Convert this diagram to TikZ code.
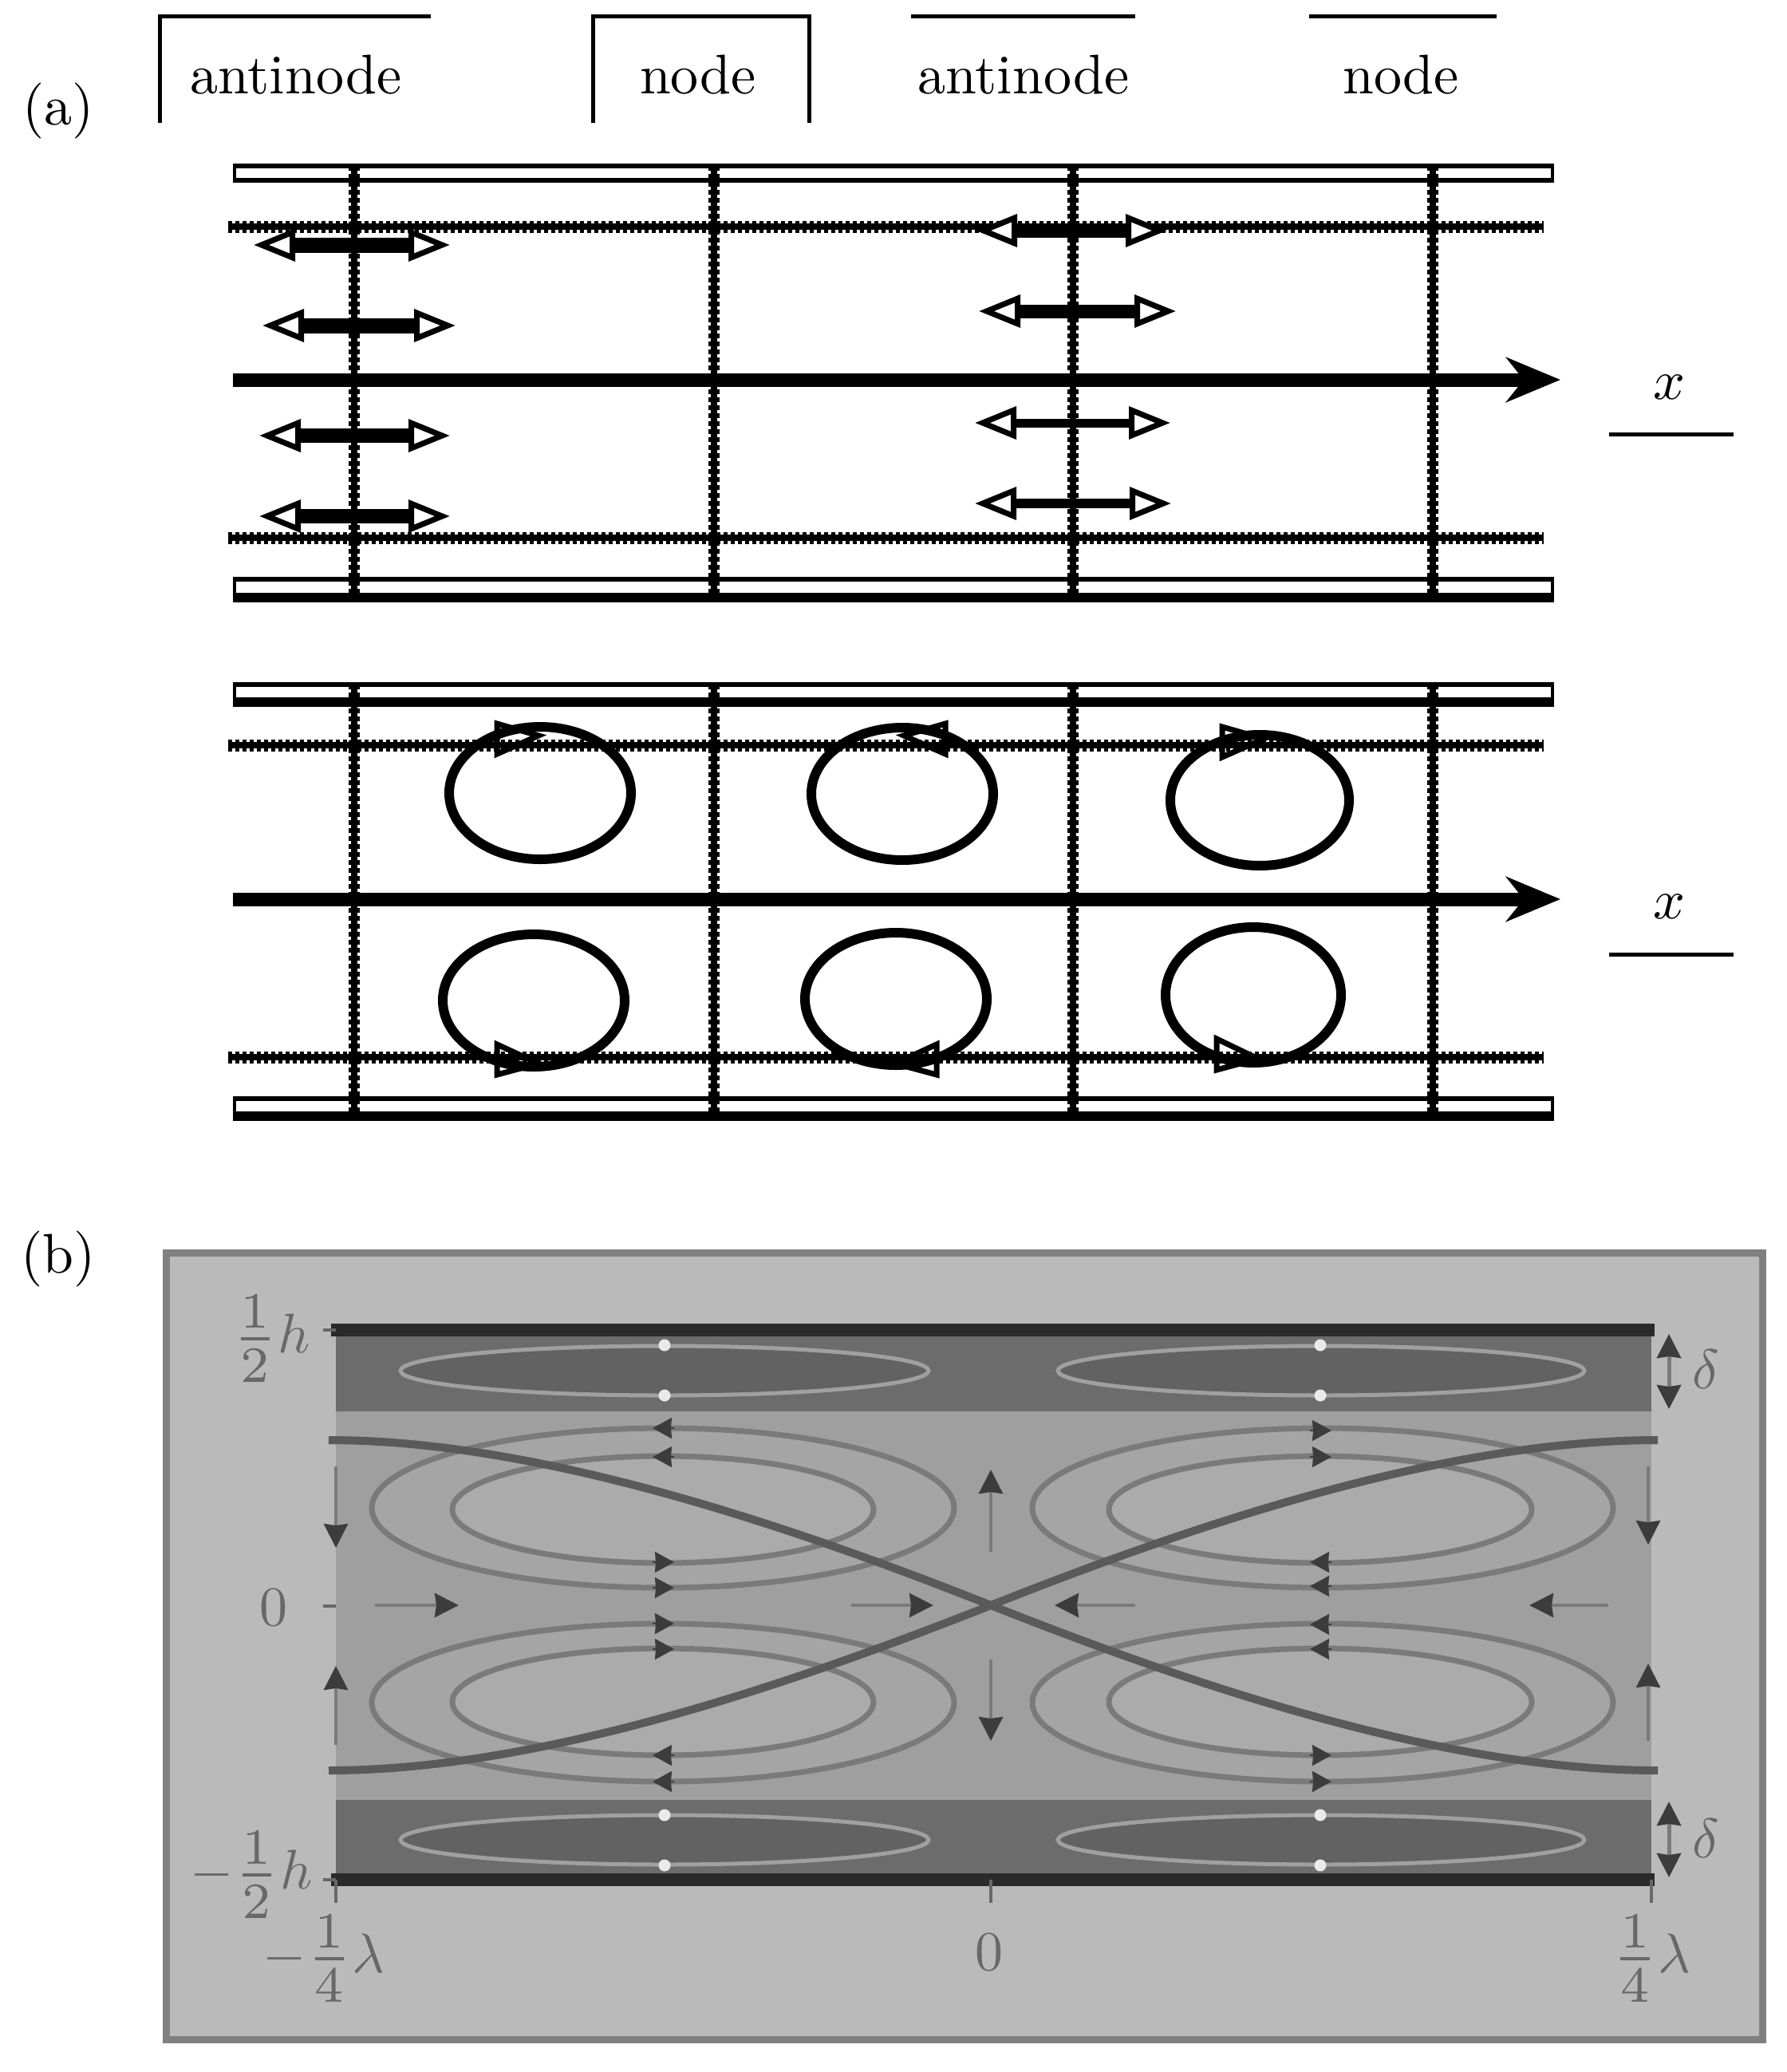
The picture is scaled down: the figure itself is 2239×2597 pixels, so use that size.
\documentclass[tikz,border=0pt]{standalone}
\usepackage{amsmath}
\usepackage{graphicx}
\usetikzlibrary{arrows.meta}
\newcommand{\bigfr}[2]{\vcenter{\hbox{\scalebox{1.3}{$\frac{#1}{#2}$}}}}
\definecolor{frameg}{HTML}{BABABA}
\definecolor{borderg}{HTML}{808080}
\definecolor{midg}{HTML}{9F9F9F}
\definecolor{lobeg}{HTML}{ABABAB}
\definecolor{bandg}{HTML}{6C6C6C}
\definecolor{thing}{HTML}{626262}
\definecolor{wallg}{HTML}{2A2A2A}
\definecolor{lineg}{HTML}{7A7A7A}
\definecolor{sepg}{HTML}{5A5A5A}
\definecolor{blobg}{HTML}{3C3C3C}
\definecolor{textg}{HTML}{686868}
\tikzset{
  x=1pt,y=-1pt,
  lab/.style={inner sep=0pt,transform shape,scale=7},
  glab/.style={lab,text=textg},
  brack/.style={line width=5pt,line cap=butt,line join=miter},
  wallbox/.style={draw=black,fill=white,line width=4pt},
  thinwall/.style={line width=6pt},
  thickwall/.style={line width=12pt},
  hdots/.style={line width=15pt,dash pattern=on 5pt off 4pt,preaction={draw,solid,line width=8pt}},
  vdots/.style={line width=14pt,dash pattern=on 6pt off 4pt,preaction={draw,solid,line width=8pt}},
  axisline/.style={line width=17pt,-{Stealth[length=68pt,width=56pt,inset=22pt]}},
  dblarrow/.style={line width=#1,{Triangle[length=52pt,width=40pt,line width=7pt,fill=white]}-{Triangle[length=52pt,width=40pt,line width=7pt,fill=white]}},
  loop/.style={draw=black,line width=12pt},
  headtip/.style={draw=black,fill=white,line width=7pt,line join=miter},
  thinloop/.style={draw=lineg!40!frameg,line width=5pt,fill=thing},
  outerloop/.style={draw=lineg,line width=7pt,fill=lobeg!50!midg},
  innerloop/.style={draw=lineg,line width=7pt,fill=lobeg},
  sep/.style={draw=sepg,line width=10pt},
  flow/.style={draw=lineg,line width=4pt,-{Stealth[length=30pt,width=30pt,inset=2pt,blobg]}},
  blobhead/.style={draw=blobg,line width=2pt,-{Stealth[length=24pt,width=26pt,inset=1pt,blobg]}},
  wdot/.style={circle,fill=white!70!frameg,inner sep=0pt,minimum size=15pt},
  tickm/.style={draw=textg,line width=4pt}
}
\begin{document}
\begin{tikzpicture}
\useasboundingbox (0,0) rectangle (2239,2597);
\fill[white] (0,0) rectangle (2239,2597);

%%% brackets and labels of (a)
\draw[brack] (200,154) -- (200,20) -- (540,20);
\draw[brack] (743,154) -- (743,20) -- (1014,20) -- (1014,154);
\draw[brack] (1142,20) -- (1423,20);
\draw[brack] (1641,20) -- (1876,20);
\node[lab,anchor=base] (a1) at (371,117) {antinode};
\node[lab,anchor=base] (n1) at (875,117) {node};
\node[lab,anchor=base] (a2) at (1283,117) {antinode};
\node[lab,anchor=base] (n2) at (1756,117) {node};
\node[lab,anchor=base] (la) at (73,156) {(a)};

%%% upper channel
\draw[wallbox] (294,208) rectangle (1946,226);
\draw[thinwall] (292,208) -- (1948,208) (292,226) -- (1948,226);
\draw[wallbox] (294,726) rectangle (1946,749);
\draw[thinwall] (292,726) -- (1948,726);
\draw[thickwall] (292,749) -- (1948,749);
\draw[hdots] (286,284) -- (1935,284);
\draw[hdots] (286,674) -- (1935,674);
\foreach \x in {444,895,1345,1796} \draw[vdots] (\x,208) -- (\x,749);
\coordinate (ax1s) at (292,476);
\coordinate (ax1e) at (1956,476);
\draw[axisline] (ax1s) -- (ax1e);
\node[lab,anchor=base] (x1) at (2092,500) {$x$};
\draw[line width=5pt] (2017,544) -- (2173,544);
\draw[dblarrow=19pt] (318,307) -- (564,307);
\draw[dblarrow=19pt] (329,408) -- (571,408);
\draw[dblarrow=18pt] (325,546) -- (564,546);
\draw[dblarrow=18pt] (325,647) -- (564,647);
\draw[dblarrow=17pt] (1223,289) -- (1463,289);
\draw[dblarrow=17pt] (1227,390) -- (1474,390);
\draw[dblarrow=11pt] (1222,530) -- (1467,530);
\draw[dblarrow=12pt] (1222,631) -- (1468,631);

%%% lower channel
\draw[wallbox] (294,858) rectangle (1946,880);
\draw[thinwall] (292,858) -- (1948,858);
\draw[thickwall] (292,880) -- (1948,880);
\draw[wallbox] (294,1377) rectangle (1946,1399);
\draw[thinwall] (292,1377) -- (1948,1377);
\draw[thickwall] (292,1399) -- (1948,1399);
% cell arrowheads
\draw[headtip] (623,907) -- (675,922) -- (623,945) -- cycle;
\draw[headtip] (1185,907) -- (1133,922) -- (1185,945) -- cycle;
\draw[headtip] (1532,911) -- (1584,926) -- (1532,949) -- cycle;
\draw[headtip] (623,1347) -- (675,1333) -- (623,1309) -- cycle;
\draw[headtip] (1174,1347) -- (1122,1333) -- (1174,1309) -- cycle;
\draw[headtip] (1525,1341) -- (1577,1327) -- (1525,1302) -- cycle;
\draw[hdots] (286,934) -- (1935,934);
\draw[hdots] (286,1325) -- (1935,1325);
\foreach \x in {444,895,1345,1796} \draw[vdots] (\x,858) -- (\x,1399);
\coordinate (ax2s) at (292,1127);
\coordinate (ax2e) at (1956,1127);
\draw[axisline] (ax2s) -- (ax2e);
\node[lab,anchor=base] (x2) at (2092,1151) {$x$};
\draw[line width=5pt] (2017,1196) -- (2173,1196);
% cells
\draw[loop] (677,994) ellipse [x radius=114,y radius=83];
\draw[loop] (1131,995) ellipse [x radius=114,y radius=83];
\draw[loop] (1579,1003) ellipse [x radius=112,y radius=82];
\draw[loop] (669,1254) ellipse [x radius=114,y radius=83];
\draw[loop] (1123,1252) ellipse [x radius=114,y radius=83];
\draw[loop] (1571,1247) ellipse [x radius=110,y radius=85];

%%% panel (b)
\node[lab,anchor=base] (lb) at (73,1595) {(b)};
\draw[draw=borderg,fill=frameg,line width=9pt] (208,1570) rectangle (2209,2556);
\fill[midg] (421,1769) rectangle (2070,2256);
\fill[bandg] (421,1667) rectangle (2070,1769);
\fill[bandg] (421,2256) rectangle (2070,2356);
\draw[wallg,line width=16pt] (415,1667) -- (2074,1667);
\draw[wallg,line width=16pt] (415,2356) -- (2074,2356);
% thin loops in the layers
\foreach \cx/\cy/\rx in {833/1718/331,1656/1718/330,833/2306/331,1656/2306/330}
  \draw[thinloop] (\cx,\cy) ellipse [x radius=\rx,y radius=31];
\foreach \x in {833,1655} {
  \node[wdot] at (\x,1686) {};
  \node[wdot] at (\x,1749) {};
  \node[wdot] at (\x,2275) {};
  \node[wdot] at (\x,2338) {};
}
% core loops
\foreach \cx/\ro/\ri/\cxi in {831/365/264/831,1658/364/265/1655} {
  \draw[outerloop] (\cx,1890) ellipse [x radius=\ro,y radius=100];
  \draw[outerloop] (\cx,2134) ellipse [x radius=\ro,y radius=99];
  \draw[innerloop] (\cxi,1892) ellipse [x radius=\ri,y radius=67];
  \draw[innerloop] (\cxi,2133) ellipse [x radius=\ri,y radius=67];
}
% arrowheads on the loops
\foreach \y in {1790,1826,2200,2233} \draw[blobhead] (845,\y) -- (818,\y);
\foreach \y in {1958,1990,2035,2067} \draw[blobhead] (818,\y) -- (845,\y);
\foreach \y in {1793,1826,2200,2233} \draw[blobhead] (1642,\y) -- (1669,\y);
\foreach \y in {1958,1988,2036,2067} \draw[blobhead] (1669,\y) -- (1642,\y);
% separatrices
\coordinate (cross) at (1242,2012);
\draw[sep] (412,1805) .. controls (660,1805) and (960,1900) .. (cross)
  .. controls (1524,2124) and (1824,2219) .. (2078,2219);
\draw[sep] (412,2219) .. controls (660,2219) and (960,2124) .. (cross)
  .. controls (1524,1900) and (1824,1805) .. (2078,1805);
% flow arrows
\draw[flow] (470,2012) -- (575,2012);
\draw[flow] (1067,2012) -- (1170,2012);
\draw[flow] (1423,2012) -- (1322,2012);
\draw[flow] (2016,2012) -- (1917,2012);
\draw[flow] (1242,1945) -- (1242,1842);
\draw[flow] (1242,2080) -- (1242,2182);
\draw[flow] (421,1838) -- (421,1940);
\draw[flow] (421,2187) -- (421,2088);
\draw[flow] (2066,1838) -- (2066,1936);
\draw[flow] (2066,2182) -- (2066,2085);
% layer thickness arrows
\draw[flow,line width=5pt] (2092,1718) -- (2092,1672);
\draw[flow,line width=5pt] (2092,1718) -- (2092,1766);
\draw[flow,line width=5pt] (2092,2305) -- (2092,2258);
\draw[flow,line width=5pt] (2092,2305) -- (2092,2353);
% ticks
\draw[tickm] (405,1667) -- (421,1667);
\draw[tickm] (405,2013) -- (421,2013);
\draw[tickm] (405,2356) -- (421,2356);
\draw[tickm] (421,2356) -- (421,2385);
\draw[tickm] (1242,2356) -- (1242,2385);
\draw[tickm] (2070,2356) -- (2070,2385);
% labels
\node[glab] (hp) at (340,1678) {$\bigfr12 h$};
\node[glab] (hm) at (315,2350) {$-\bigfr12 h$};
\node[glab] (y0) at (343,2015) {$0$};
\node[glab] (lm) at (406,2455) {$-\bigfr14\lambda$};
\node[glab] (x0) at (1240,2447) {$0$};
\node[glab] (lp) at (2070,2455) {$\bigfr14\lambda$};
\node[glab] (d1) at (2138,1716) {$\delta$};
\node[glab] (d2) at (2138,2304) {$\delta$};
\end{tikzpicture}
\end{document}
